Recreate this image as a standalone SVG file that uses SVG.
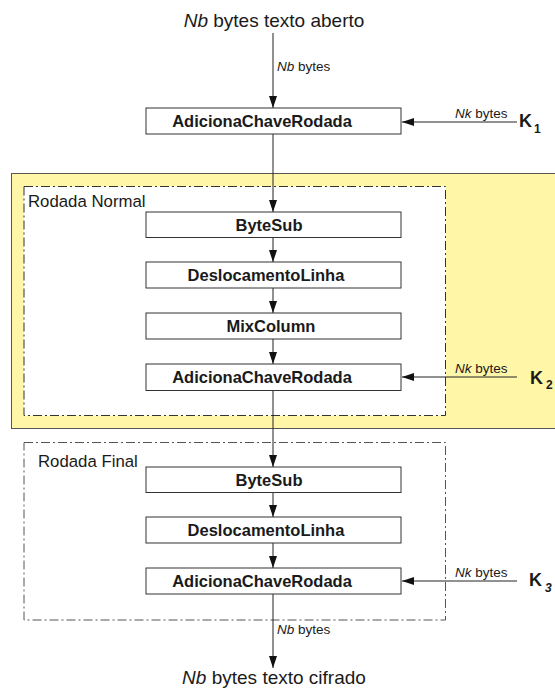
<svg xmlns="http://www.w3.org/2000/svg" width="555" height="689" viewBox="0 0 555 689">
  <style>
    .box { fill: #ffffff; stroke: #333333; stroke-width: 1; }
    .lbl { font-family: "Liberation Sans", Arial, sans-serif; font-weight: bold; font-size: 16.5px; fill: #1a1a1a; text-anchor: middle; }
    .io { font-family: "Liberation Sans", Arial, sans-serif; font-size: 19px; fill: #1a1a1a; text-anchor: middle; }
    .small { font-family: "Liberation Sans", Arial, sans-serif; font-size: 13.5px; fill: #1a1a1a; }
    .round { font-family: "Liberation Sans", Arial, sans-serif; font-size: 16.8px; fill: #1a1a1a; }
    .key { font-family: "Liberation Sans", Arial, sans-serif; font-weight: bold; font-size: 18px; fill: #1a1a1a; }
    .sub { font-family: "Liberation Sans", Arial, sans-serif; font-weight: bold; font-size: 12px; fill: #1a1a1a; }
    .wire { stroke: #222222; stroke-width: 1; fill: none; }
    .dd { stroke: #333333; stroke-width: 1; stroke-dasharray: 9 3 2 3; }
  </style>
  <defs>
    <marker id="arr" markerWidth="12" markerHeight="8" refX="12" refY="4" orient="auto" markerUnits="userSpaceOnUse">
      <path d="M0,0 L12,4 L0,8 Z" fill="#111111"/>
    </marker>
  </defs>

  <!-- round frames -->
  <g id="normal-round">
    <rect x="11.5" y="173.5" width="560" height="255" fill="#fff6a8" stroke="#555555" stroke-width="1"/>
    <rect class="dd" x="24" y="186.5" width="421.5" height="229" fill="#ffffff"/>
    <text class="round" x="28" y="207">Rodada Normal</text>
  </g>
  <g id="final-round">
    <rect class="dd" x="24" y="442.5" width="421.5" height="177.5" fill="none" style="stroke:#555555"/>
    <text class="round" x="38" y="467">Rodada Final</text>
  </g>

  <!-- input / output -->
  <text id="input" class="io" x="274" y="27"><tspan font-style="italic">Nb</tspan> bytes texto aberto</text>
  <text id="output" class="io" x="274" y="684"><tspan font-style="italic">Nb</tspan> bytes texto cifrado</text>

  <!-- connectors -->
  <g id="connectors">
    <line class="wire" x1="273" y1="33" x2="273" y2="108" marker-end="url(#arr)"/>
    <line class="wire" x1="273" y1="134" x2="273" y2="212" marker-end="url(#arr)"/>
    <line class="wire" x1="273" y1="238" x2="273" y2="262" marker-end="url(#arr)"/>
    <line class="wire" x1="273" y1="288" x2="273" y2="313" marker-end="url(#arr)"/>
    <line class="wire" x1="273" y1="339" x2="273" y2="364" marker-end="url(#arr)"/>
    <line class="wire" x1="273" y1="390" x2="273" y2="467" marker-end="url(#arr)"/>
    <line class="wire" x1="273" y1="493" x2="273" y2="517" marker-end="url(#arr)"/>
    <line class="wire" x1="273" y1="543" x2="273" y2="568" marker-end="url(#arr)"/>
    <line class="wire" x1="273" y1="594" x2="273" y2="668" marker-end="url(#arr)"/>
    <line class="wire" x1="517" y1="122" x2="402" y2="122" marker-end="url(#arr)"/>
    <line class="wire" x1="517" y1="377" x2="402" y2="377" marker-end="url(#arr)"/>
    <line class="wire" x1="517" y1="581" x2="402" y2="581" marker-end="url(#arr)"/>
    <text class="small" x="277" y="71"><tspan font-style="italic">Nb</tspan> bytes</text>
    <text class="small" x="277" y="634"><tspan font-style="italic">Nb</tspan> bytes</text>
    <text class="small" x="455" y="118"><tspan font-style="italic">Nk</tspan> bytes</text>
    <text class="small" x="455" y="373"><tspan font-style="italic">Nk</tspan> bytes</text>
    <text class="small" x="455" y="577"><tspan font-style="italic">Nk</tspan> bytes</text>
  </g>

  <!-- round keys -->
  <g id="key1"><text class="key" x="519" y="127">K</text><text class="sub" x="534" y="133">1</text></g>
  <g id="key2"><text class="key" x="530" y="384">K</text><text class="sub" x="546" y="389">2</text></g>
  <g id="key3"><text class="key" x="529" y="586">K</text><text class="sub" x="545" y="592" font-style="italic">3</text></g>

  <!-- processing steps -->
  <g id="add-round-key-1"><rect class="box" x="146" y="108" width="255" height="26"/><text class="lbl" x="262" y="127">AdicionaChaveRodada</text></g>
  <g id="byte-sub-1"><rect class="box" x="146" y="212" width="255" height="25.5"/><text class="lbl" x="269" y="231">ByteSub</text></g>
  <g id="shift-row-1"><rect class="box" x="146" y="262" width="255" height="26"/><text class="lbl" x="266" y="281">DeslocamentoLinha</text></g>
  <g id="mix-column"><rect class="box" x="146" y="313" width="255" height="26"/><text class="lbl" x="271" y="332">MixColumn</text></g>
  <g id="add-round-key-2"><rect class="box" x="146" y="364" width="255" height="26.5"/><text class="lbl" x="262" y="383">AdicionaChaveRodada</text></g>
  <g id="byte-sub-2"><rect class="box" x="146" y="467" width="255" height="25.5"/><text class="lbl" x="269" y="486">ByteSub</text></g>
  <g id="shift-row-2"><rect class="box" x="146" y="517" width="255" height="26"/><text class="lbl" x="266" y="536">DeslocamentoLinha</text></g>
  <g id="add-round-key-3"><rect class="box" x="146" y="568" width="255" height="26"/><text class="lbl" x="262" y="587">AdicionaChaveRodada</text></g>
</svg>
